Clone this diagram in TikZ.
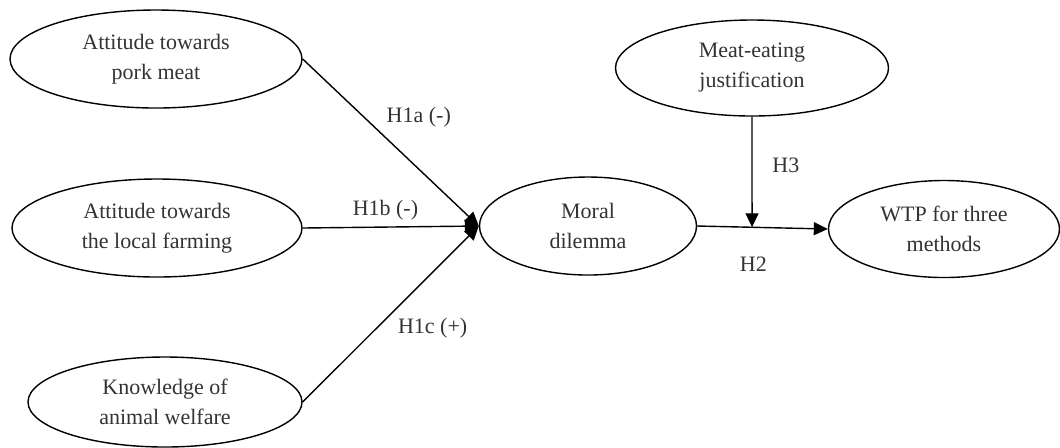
\documentclass[tikz,border=0pt]{standalone}
\usepackage{fontspec}
\setmainfont{Liberation Serif}
\usetikzlibrary{shapes,arrows}
\usetikzlibrary{arrows.meta, positioning}

\tikzset{
    var/.style={ellipse, draw, line width=0.7pt, inner sep=1pt, align=center, text=black!80},
    hyp/.style={text=black!80}
}

\begin{document}
\begin{tikzpicture}[x=0.5pt, y=-0.5pt, font=\fontsize{11}{15}\selectfont, >={Triangle[length=7pt, width=6.5pt]}, line width=0.7pt]
            \useasboundingbox (0,0) rectangle (1060,447);
            \node[var, minimum width=146pt, minimum height=49pt] (1) at (156,59) {Attitude towards\\pork meat};
            \node[var, minimum width=145pt, minimum height=49pt] (2) at (157,228) {Attitude towards\\the local farming};
            \node[var, minimum width=137pt, minimum height=45pt] (3) at (165,402) {Knowledge of\\animal welfare};
            \node[var, minimum width=108.5pt, minimum height=49pt] (4) at (588,226) {Moral\\dilemma};
            \node[var, minimum width=115.5pt, minimum height=48.5pt] (5) at (944,229) {WTP for three\\methods};
            \node[var, minimum width=136.5pt, minimum height=48pt] (6) at (752,68) {Meat-eating\\justification};
            \draw[->] (1.east) -- node[hyp, pos=0.35, right, xshift=7.5pt] {H1a (-)} (4.west);
            \draw[->] (2.east) -- node[hyp, pos=0.47, above] {H1b (-)} (4.west);
            \draw[->] (3.east) -- node[hyp, pos=0.42, right, xshift=7pt] {H1c (+)} (4.west);
            \draw[->] (4.east) -- node[hyp, pos=0.43, below, yshift=-11pt] {H2} coordinate[pos=0.42] (h2) (5.west);
            \draw[->] (6.south) -- node[hyp, pos=0.44, right, xshift=6.5pt] {H3} (h2);
        \end{tikzpicture}
\end{document}
